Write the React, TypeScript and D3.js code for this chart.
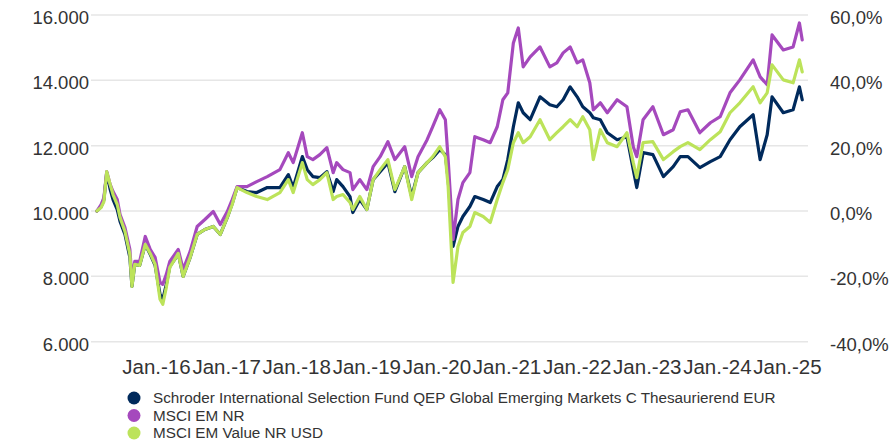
import React from 'react';
import * as d3 from 'd3';

// decimal years (x positions of the samples)
const years = [
  2015.15, 2015.21, 2015.25, 2015.29, 2015.34, 2015.38, 2015.44, 2015.48, 2015.55, 2015.62,
  2015.65, 2015.69, 2015.76, 2015.84, 2015.91, 2015.98, 2016.05, 2016.09, 2016.14, 2016.19,
  2016.26, 2016.31, 2016.38, 2016.48, 2016.58, 2016.69, 2016.81, 2016.91, 2017.01, 2017.08,
  2017.15, 2017.29, 2017.43, 2017.58, 2017.76, 2017.88, 2017.95, 2018.08, 2018.15, 2018.23,
  2018.33, 2018.43, 2018.52, 2018.57, 2018.66, 2018.76, 2018.8, 2018.9, 2019.0, 2019.09,
  2019.19, 2019.3, 2019.4, 2019.54, 2019.64, 2019.73, 2019.86, 2019.94, 2020.04, 2020.12,
  2020.16, 2020.23, 2020.3, 2020.37, 2020.47, 2020.54, 2020.66, 2020.76, 2020.86, 2020.94,
  2021.01, 2021.09, 2021.16, 2021.23, 2021.33, 2021.47, 2021.61, 2021.71, 2021.8, 2021.9,
  2022.0, 2022.08, 2022.18, 2022.23, 2022.33, 2022.43, 2022.57, 2022.71, 2022.8, 2022.85,
  2022.94, 2023.08, 2023.23, 2023.37, 2023.47, 2023.58, 2023.75, 2023.9, 2024.04, 2024.18,
  2024.32, 2024.51, 2024.61, 2024.71, 2024.78, 2024.94, 2025.08, 2025.17, 2025.21,
];

const fund = [
  10000, 10137, 10351, 11176, 10657, 10351, 10046, 9679, 9283, 8580,
  7695, 8366, 8336, 8977, 8672, 8336, 7450, 7298, 7756, 8305,
  8519, 8702, 8000, 8580, 9283, 9435, 9527, 9283, 9802, 10229,
  10718, 10595, 10565, 10718, 10718, 11115, 10718, 11664, 11267, 11053,
  11023, 11206, 10595, 10962, 10748, 10443, 9954, 10351, 10046, 10962,
  11206, 11481, 10595, 11359, 10443, 11176, 11481, 11634, 11878, 11725,
  10962, 8916, 9527, 9832, 10137, 10443, 10351, 10260, 10748, 10962,
  11573, 12580, 13313, 13008, 12794, 13496, 13252, 13191, 13405, 13802,
  13496, 13191, 13008, 12855, 12794, 12397, 12183, 12275, 11267, 10718,
  11786, 11725, 11053, 11359, 11664, 11664, 11328, 11511, 11664, 12183,
  12580, 12947, 11573, 12336, 13496, 13008, 13099, 13802, 13405,
];

const msciEm = [
  10000, 10199, 10412, 11206, 10809, 10595, 10351, 9893, 9496, 8824,
  7908, 8458, 8458, 9221, 8824, 8580, 7817, 7756, 8061, 8458,
  8672, 8824, 8214, 8763, 9527, 9741, 9985, 9588, 9985, 10351,
  10748, 10748, 10901, 11053, 11267, 11786, 11481, 12397, 11664, 11573,
  11725, 11939, 11176, 11481, 11267, 11176, 10657, 10962, 10657, 11359,
  11664, 12122, 11573, 11970, 11053, 11664, 12183, 12580, 13099, 12794,
  11573, 9130, 10351, 10870, 11176, 12275, 12183, 12092, 12580, 13405,
  13618, 15145, 15603, 14412, 14718, 15023, 14412, 14534, 14840, 15023,
  14534, 14626, 13924, 13099, 13313, 13008, 13405, 13191, 11970, 11664,
  12794, 13191, 12336, 12489, 13038, 13099, 12397, 12702, 12886, 13618,
  14015, 14626, 14107, 13863, 15389, 14931, 15023, 15756, 15237,
];

const msciEmValue = [
  10000, 10107, 10290, 11206, 10809, 10504, 10199, 9802, 9374, 8672,
  7695, 8366, 8336, 8977, 8702, 8366, 7298, 7145, 7664, 8275,
  8519, 8702, 8000, 8580, 9283, 9435, 9527, 9283, 9802, 10199,
  10718, 10565, 10443, 10351, 10565, 10962, 10565, 11481, 10962, 10809,
  10962, 11176, 10351, 10443, 10504, 10260, 10046, 10443, 10046, 10962,
  11267, 11573, 10657, 11359, 10351, 11176, 11481, 11664, 11970, 11664,
  10748, 7817, 8916, 9344, 9527, 9954, 9832, 9649, 10351, 10870,
  11267, 12092, 12397, 12092, 12275, 12794, 12183, 12397, 12580, 12794,
  12580, 12886, 12489, 11573, 12489, 12092, 11970, 12397, 11481, 11023,
  12092, 12122, 11573, 11817, 11970, 12092, 11878, 12183, 12428, 13008,
  13313, 13802, 13313, 13618, 14473, 14015, 13924, 14626, 14260,
];

const seriesNames = [
  'Schroder International Selection Fund QEP Global Emerging Markets C Thesaurierend EUR',
  'MSCI EM NR',
  'MSCI EM Value NR USD',
];
const seriesColors = ['#002a5c', '#a549bd', '#bce35a'];
const leftTicks = [6000, 8000, 10000, 12000, 14000, 16000];
const rightTicks = [-40, -20, 0, 20, 40, 60];
const yearTicks = [2016, 2017, 2018, 2019, 2020, 2021, 2022, 2023, 2024, 2025];

const W = 893;
const H = 444;
const font = '"Liberation Sans", Arial, sans-serif';

export default function App() {
  const x = d3.scaleLinear().domain([2016, 2025]).range([156.5, 787.5]);
  const y = d3.scaleLinear().domain([6000, 16000]).range([341.7, 15]);
  const yPct = d3.scaleLinear().domain([-40, 60]).range([341.7, 15]);

  const line = d3
    .line<[number, number]>()
    .x((d) => x(d[0]))
    .y((d) => y(d[1]));

  const series = [fund, msciEm, msciEmValue];
  const fmtLeft = (v: number) => d3.format(',')(v).replace(/,/g, '.');
  const fmtRight = (v: number) => v.toFixed(1).replace('.', ',') + '%';

  return (
    <svg width={W} height={H} style={{ position: 'absolute', left: 0, top: 0 }} fontFamily={font}>
      <rect width={W} height={H} fill="#fff" />
      {leftTicks.map((t) => (
        <line key={t} x1={91} x2={808} y1={y(t)} y2={y(t)} stroke="#e6e6e6" strokeWidth={1.5} />
      ))}
      {leftTicks.map((t) => (
        <text key={t} x={89} y={y(t) + 9} textAnchor="end" fontSize={18.5} fill="#333">
          {fmtLeft(t)}
        </text>
      ))}
      {rightTicks.map((t) => (
        <text key={t} x={830} y={yPct(t) + 9} textAnchor="start" fontSize={18.5} fill="#333">
          {fmtRight(t)}
        </text>
      ))}
      {yearTicks.map((t) => (
        <text key={t} x={x(t)} y={374} textAnchor="middle" fontSize={20.5} fill="#333">
          {`Jan.-${String(t).slice(2)}`}
        </text>
      ))}
      {series.map((vals, i) => (
        <path
          key={i}
          d={line(years.map((yr, j) => [yr, vals[j]]) as [number, number][]) || ''}
          fill="none"
          stroke={seriesColors[i]}
          strokeWidth={3.2}
          strokeLinejoin="round"
          strokeLinecap="round"
        />
      ))}
      {seriesNames.map((name, i) => (
        <g key={name} transform={`translate(0, ${398 + i * 17.5})`}>
          <circle cx={134} cy={0} r={6.5} fill={seriesColors[i]} />
          <text x={153} y={5} fontSize={15.25} fill="#333">
            {name}
          </text>
        </g>
      ))}
    </svg>
  );
}
